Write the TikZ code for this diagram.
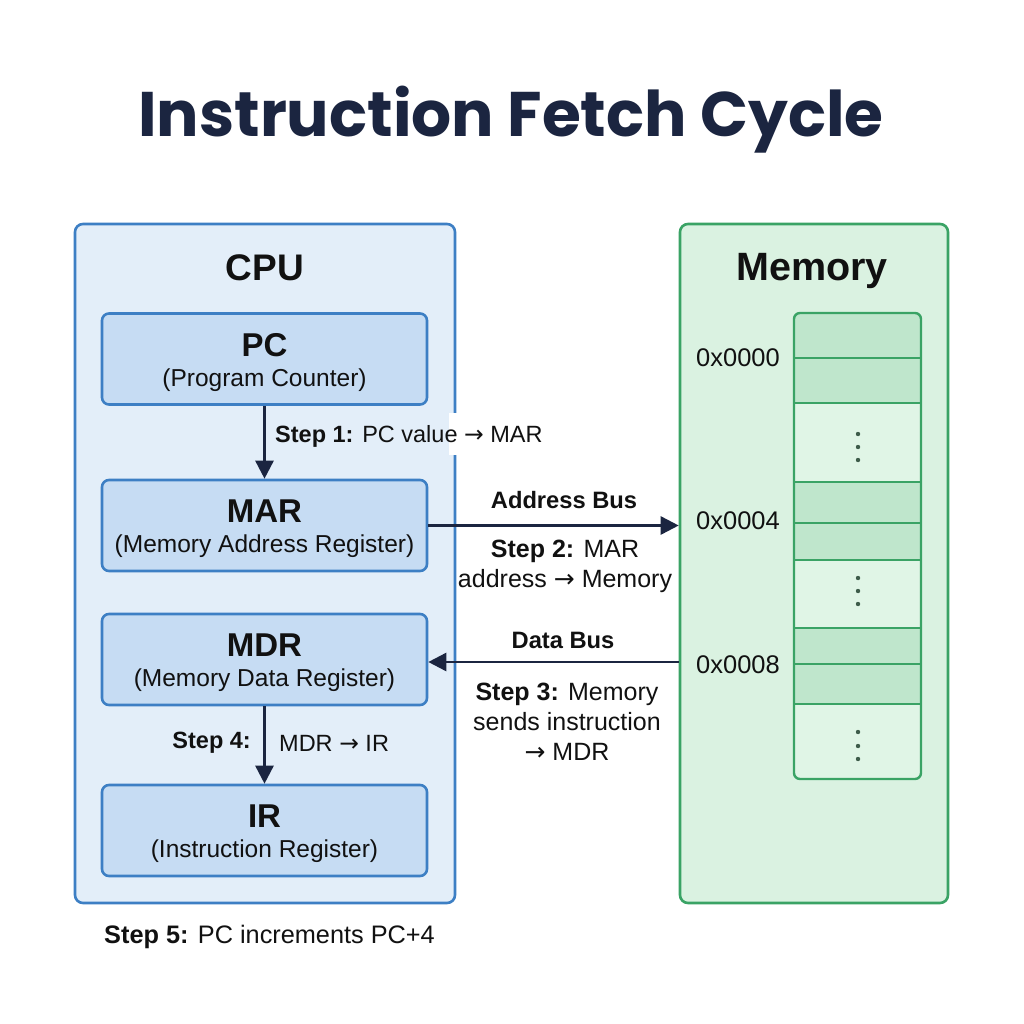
\documentclass[tikz,border=0pt]{standalone}
\usepackage{fontspec}
\setmainfont{Liberation Sans}
\newfontfamily\titlefont{Poppins}
\newfontfamily\symfont{DejaVu Sans}
\newcommand{\toarr}{{\symfont\char"2192}}
\usetikzlibrary{arrows.meta,calc}

\definecolor{navy}{HTML}{1B2540}
\definecolor{ink}{HTML}{111111}
\definecolor{cpufill}{HTML}{E3EEF9}
\definecolor{cpuline}{HTML}{3D7FC4}
\definecolor{regfill}{HTML}{C6DCF3}
\definecolor{memfill}{HTML}{DAF2E1}
\definecolor{memline}{HTML}{3AA365}
\definecolor{cellfill}{HTML}{BFE6CC}
\definecolor{gapfill}{HTML}{E0F5E6}
\definecolor{dotcol}{HTML}{3E5C4A}

\tikzset{
  outerbox/.style={draw, line width=2.6pt, rounded corners=8pt, inner sep=0pt},
  regbox/.style={draw=cpuline, fill=regfill, line width=2.6pt, rounded corners=7pt,
                 minimum width=325pt, minimum height=91pt, inner sep=0pt},
  headtxt/.style={font=\fontsize{37}{40}\selectfont\bfseries, text=ink},
  regname/.style={font=\fontsize{33}{36}\selectfont\bfseries, text=ink},
  regsub/.style={font=\fontsize{24.5}{28}\selectfont, text=ink},
  steptxt/.style={font=\fontsize{23.5}{30}\selectfont, text=ink, align=center, inner sep=0pt},
  bigstep/.style={steptxt, font=\fontsize{25}{30}\selectfont},
  bustxt/.style={font=\fontsize{23.7}{26}\selectfont\bfseries, text=ink, inner sep=0pt},
  addrtxt/.style={font=\fontsize{25.5}{28}\selectfont, text=ink, anchor=west, inner sep=0pt},
  flow/.style={draw=navy, line width=2.6pt, -{Triangle[length=18pt,width=18pt]}},
  cell/.style={draw=memline, line width=2.4pt},
  vdots/.style={fill=dotcol},
}

\begin{document}
\begin{tikzpicture}[x=1pt,y=-1pt]
\useasboundingbox[fill=white] (0,0) rectangle (1024,1024);

% title
\node[font=\fontsize{63}{70}\selectfont\titlefont\bfseries, text=navy] (title) at (511,120) {Instruction Fetch Cycle};

% outer containers
\node[outerbox, draw=cpuline, fill=cpufill, minimum width=380pt, minimum height=679pt] (cpu) at (265,563.5) {};
\node[outerbox, draw=memline, fill=memfill, minimum width=268pt, minimum height=679pt] (mem) at (814,563.5) {};
\node[headtxt] (cpuhead) at (265,268) {CPU};
\node[headtxt, font=\fontsize{39.5}{42}\selectfont\bfseries] (memhead) at (812,271) {Memory};

% registers
\node[regbox] (pc)  at (264.5,359)   {};
\node[regbox] (mar) at (264.5,525.5) {};
\node[regbox] (mdr) at (264.5,659.5) {};
\node[regbox] (ir)  at (264.5,830.5) {};

\foreach \r/\n/\s in {pc/PC/Program Counter, mar/MAR/Memory Address Register,
                      mdr/MDR/Memory Data Register, ir/IR/Instruction Register}{
  \node[regname] (\r-name) at ($(\r.center)+(0,-14)$) {\n};
  \node[regsub]  (\r-sub)  at ($(\r.center)+(0,21)$)  {(\s)};
}

% memory cells
\coordinate (colNW) at (794,313);
\coordinate (colSE) at (921,779);
\fill[gapfill, rounded corners=6pt] (colNW) rectangle (colSE);
\foreach \ya/\yb in {316/358, 358/403, 482/523, 523/560, 628/664, 664/704}{
  \fill[cellfill] (794,\ya) rectangle (921,\yb);
}
\fill[cellfill, rounded corners=6pt] (794,313) rectangle (921,330);
\foreach \y in {358,403,482,523,560,628,664,704}{
  \draw[cell] (794,\y) -- (921,\y);
}
\draw[cell, rounded corners=6pt] (colNW) rectangle (colSE);
\foreach \y in {434,447,460, 578,591,604, 732,746,759}{
  \fill[vdots] (858,\y) circle (2.2pt);
}

% addresses
\node[addrtxt] (a0) at (696,358) {0x0000};
\node[addrtxt] (a4) at (696,521) {0x0004};
\node[addrtxt] (a8) at (696,665) {0x0008};

% step 1
\fill[white] (449,413) rectangle (459,455);
\draw[flow] (pc.south) -- (mar.north);
\node[steptxt, anchor=west] (s1) at (275,436) {\textbf{Step 1:} PC value \toarr{} MAR};

% step 2: address bus
\coordinate (memA) at (mem.west |- mar.east);
\draw[flow] (mar.east) -- (memA);
\node[bustxt] (abus) at (564,500) {Address Bus};
\node[bigstep] (s2) at (565,566) {\textbf{Step 2:} MAR\\address \toarr{} Memory};

% step 3: data bus
\coordinate (memD) at ($(mem.west |- mdr.east)+(0,2.5)$);
\draw[flow] (memD) -- (mdr.east |- memD);
\node[bustxt] (dbus) at (563,640) {Data Bus};
\node[bigstep] (s3) at (567,722) {\textbf{Step 3:} Memory\\sends instruction\\\toarr{} MDR};

% step 4
\draw[flow] (mdr.south) -- (ir.north);
\node[steptxt, anchor=east] (s4a) at (251,743) {\textbf{Step 4:}};
\node[steptxt, anchor=west] (s4b) at (279,743) {MDR \toarr{} IR};

% step 5
\node[bigstep, anchor=west, font=\fontsize{25.3}{30}\selectfont] (s5) at (104,937) {\textbf{Step 5:} PC increments PC+4};
\end{tikzpicture}
\end{document}
